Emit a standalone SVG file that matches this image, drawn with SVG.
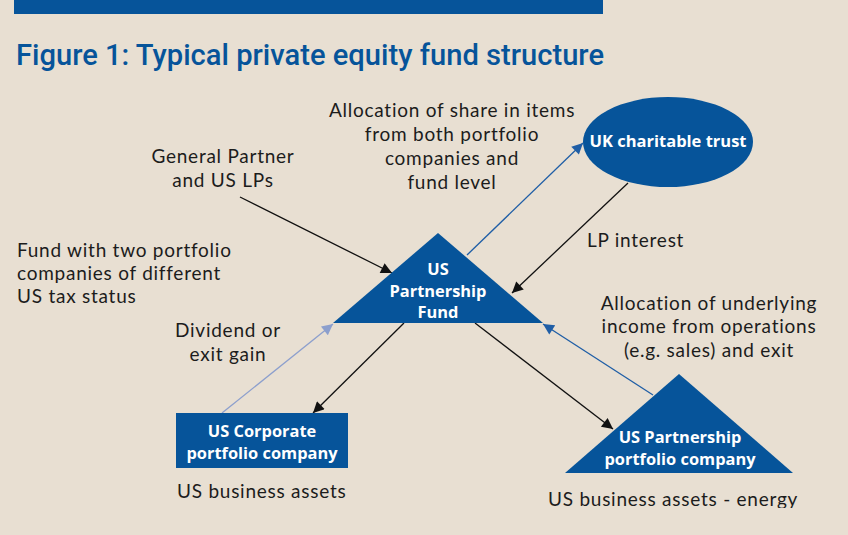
<svg xmlns="http://www.w3.org/2000/svg" width="848" height="535" viewBox="0 0 848 535">
  <defs>
    <style>
      .lbl { font-family: Lato, "Liberation Sans", sans-serif; font-size: 19px; letter-spacing: 0.75px; fill: #1c1c1c; }
      .node { fill: #06549a; }
      .nt { font-family: "Open Sans", "Noto Sans", sans-serif; font-size: 16.4px; font-weight: 700; fill: #ffffff; text-anchor: middle; }
      .ln { fill: none; stroke-width: 1.3; }
      .blk { stroke: #111111; }
      .blu { stroke: #1f5ea6; }
      .lbu { stroke: #8c9fcd; }
    </style>
    <marker id="ab" viewBox="0 0 10 10" refX="10" refY="5" markerWidth="15" markerHeight="11" markerUnits="userSpaceOnUse" orient="auto">
      <path d="M0,0 L10,5 L0,10 Z" fill="#111111"/>
    </marker>
    <marker id="au" viewBox="0 0 10 10" refX="10" refY="5" markerWidth="15" markerHeight="11" markerUnits="userSpaceOnUse" orient="auto">
      <path d="M0,0 L10,5 L0,10 Z" fill="#1f5ea6"/>
    </marker>
    <marker id="al" viewBox="0 0 10 10" refX="10" refY="5" markerWidth="15" markerHeight="11" markerUnits="userSpaceOnUse" orient="auto">
      <path d="M0,0 L10,5 L0,10 Z" fill="#8c9fcd"/>
    </marker>
    <clipPath id="clipBottom"><rect x="0" y="0" width="848" height="508"/></clipPath>
  </defs>

  <rect x="0" y="0" width="848" height="535" fill="#e8dfd2"/>
  <rect x="14" y="0" width="589" height="14" fill="#06549a"/>
  <text x="16" y="65" font-family="Roboto, 'Open Sans', sans-serif" font-size="30" font-weight="500" fill="#06549a" textLength="588" lengthAdjust="spacingAndGlyphs">Figure 1: Typical private equity fund structure</text>

  <g id="connectors">
    <line class="ln blk" x1="240" y1="197" x2="392" y2="273" marker-end="url(#ab)"/>
    <line class="ln blu" x1="467" y1="255" x2="583" y2="143" marker-end="url(#au)"/>
    <line class="ln blk" x1="628" y1="183" x2="512" y2="293" marker-end="url(#ab)"/>
    <line class="ln blu" x1="653" y1="395" x2="543" y2="324" marker-end="url(#au)"/>
    <line class="ln blk" x1="404" y1="323" x2="313" y2="413" marker-end="url(#ab)"/>
    <line class="ln lbu" x1="222" y1="413" x2="333" y2="324" marker-end="url(#al)"/>
    <line class="ln blk" x1="475" y1="323" x2="613" y2="429" marker-end="url(#ab)"/>
  </g>

  <g id="fund">
    <polygon class="node" points="438,233 333,323 543,323"/>
    <text class="nt" x="438" y="275">US</text>
    <text class="nt" x="438" y="297">Partnership</text>
    <text class="nt" x="438" y="318">Fund</text>
  </g>

  <g id="uk-trust">
    <ellipse class="node" cx="668" cy="142" rx="85" ry="45"/>
    <text class="nt" x="668" y="147" textLength="157" lengthAdjust="spacingAndGlyphs">UK charitable trust</text>
  </g>

  <g id="us-corporate">
    <rect class="node" x="176" y="413" width="172" height="55"/>
    <text class="nt" x="262" y="437">US Corporate</text>
    <text class="nt" x="262" y="459">portfolio company</text>
  </g>

  <g id="us-partnership-portfolio">
    <polygon class="node" points="679,374 565,473 793,473"/>
    <text class="nt" x="680" y="443">US Partnership</text>
    <text class="nt" x="680" y="465">portfolio company</text>
  </g>

  <g id="labels">
    <text class="lbl" x="223" y="163" text-anchor="middle">General Partner</text>
    <text class="lbl" x="223" y="187" text-anchor="middle">and US LPs</text>

    <text class="lbl" x="452" y="117" text-anchor="middle">Allocation of share in items</text>
    <text class="lbl" x="452" y="141" text-anchor="middle">from both portfolio</text>
    <text class="lbl" x="452" y="165" text-anchor="middle">companies and</text>
    <text class="lbl" x="452" y="189" text-anchor="middle">fund level</text>

    <text class="lbl" x="17" y="257">Fund with two portfolio</text>
    <text class="lbl" x="17" y="280">companies of different</text>
    <text class="lbl" x="17" y="303">US tax status</text>

    <text class="lbl" x="587" y="247">LP interest</text>

    <text class="lbl" x="709" y="310" text-anchor="middle">Allocation of underlying</text>
    <text class="lbl" x="709" y="333" text-anchor="middle">income from operations</text>
    <text class="lbl" x="709" y="357" text-anchor="middle">(e.g. sales) and exit</text>

    <text class="lbl" x="228" y="337" text-anchor="middle">Dividend or</text>
    <text class="lbl" x="228" y="361" text-anchor="middle">exit gain</text>

    <text class="lbl" x="177" y="498">US business assets</text>
    <text class="lbl" x="548" y="506" clip-path="url(#clipBottom)">US business assets - energy</text>
  </g>
</svg>
